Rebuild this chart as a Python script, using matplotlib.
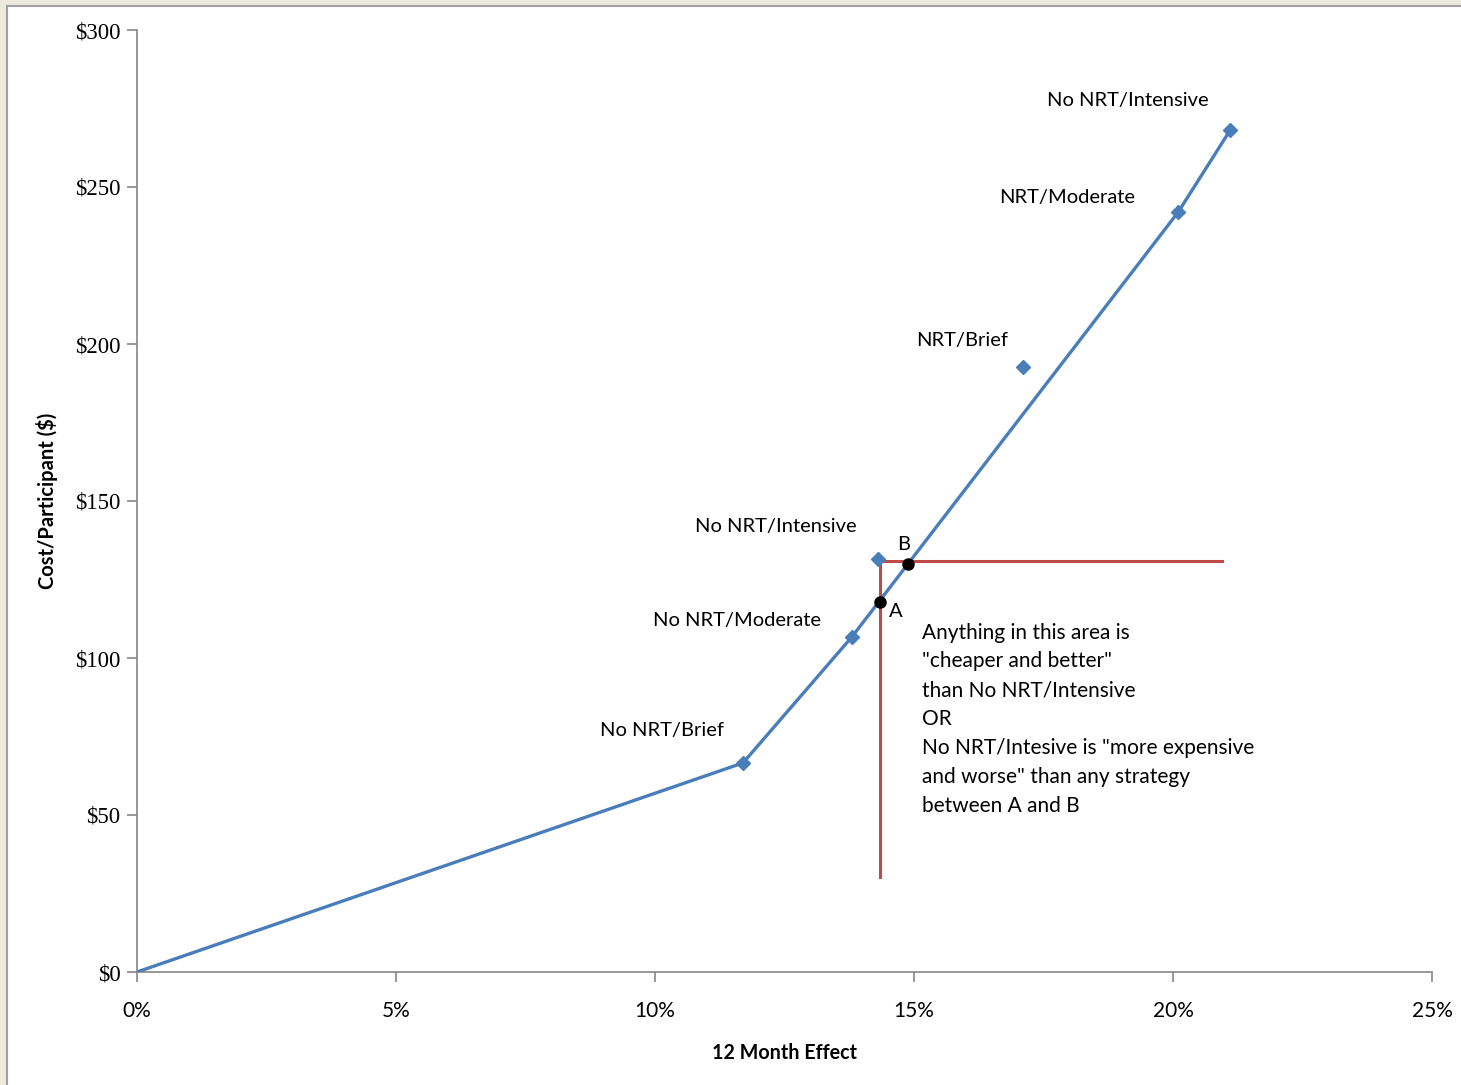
import matplotlib.pyplot as plt
from matplotlib.patches import Rectangle
from matplotlib.ticker import FuncFormatter

# Cost-effectiveness frontier (12 month effect in %, cost per participant in $)
frontier_x = [0.0, 11.7, 13.8, 20.1, 21.1]
frontier_y = [0.0, 66.6, 106.7, 242.0, 268.0]
frontier_names = [None, 'No NRT/Brief', 'No NRT/Moderate', 'NRT/Moderate', 'No NRT/Intensive']

# Dominated strategies
dominated_x = [14.3, 17.1]
dominated_y = [131.5, 192.7]
dominated_names = ['No NRT/Intensive', 'NRT/Brief']

# Points A and B on the frontier
ab_x = [14.35, 14.88]
ab_y = [117.8, 129.8]
ab_names = ['A', 'B']

# Label positions (data coords)
label_pos = {
    ('frontier', 1): (10.14, 77.0),
    ('frontier', 2): (11.58, 111.8),
    ('frontier', 3): (17.95, 246.5),
    ('frontier', 4): (19.13, 277.7),
    ('dominated', 0): (12.34, 142.0),
    ('dominated', 1): (15.93, 201.0),
}

note_lines = ['Anything in this area is',
              '"cheaper and better"',
              'than No NRT/Intensive',
              'OR',
              'No NRT/Intesive is "more expensive',
              'and worse" than any strategy',
              'between A and B']

blue = '#4A7EBB'
red = '#BE4B48'
font = ['Lato', 'DejaVu Sans']

fig = plt.figure(figsize=(14.61, 10.85), dpi=100)
fig.patch.set_facecolor('white')

# outer frame: beige strip and thin gray border
fig.patches.append(Rectangle((0, 1 - 6 / 1085), 1, 6 / 1085, transform=fig.transFigure,
                             facecolor='#ECEADF', edgecolor='none', zorder=0))
fig.patches.append(Rectangle((0, 0), 7 / 1461, 1, transform=fig.transFigure,
                             facecolor='#ECEADF', edgecolor='none', zorder=0))
fig.lines.append(plt.Line2D([7 / 1461, 7 / 1461], [0, 1 - 6 / 1085], transform=fig.transFigure,
                            color='#A0A0A0', lw=1.5))
fig.lines.append(plt.Line2D([7 / 1461, 1], [1 - 6 / 1085, 1 - 6 / 1085], transform=fig.transFigure,
                            color='#A0A0A0', lw=1.5))

ax = fig.add_axes([137 / 1461, 113 / 1085, (1432 - 137) / 1461, (972 - 30) / 1085])
ax.set_xlim(0, 25)
ax.set_ylim(0, 300)

ax.plot(frontier_x, frontier_y, color=blue, lw=2.4, marker='D', markersize=7,
        markevery=list(range(1, len(frontier_x))), zorder=3)
ax.plot(dominated_x, dominated_y, linestyle='none', color=blue, marker='D', markersize=7, zorder=3)

# box marking the "cheaper and better" area
ax.plot([dominated_x[0] + 0.04, dominated_x[0] + 0.04], [dominated_y[0], 30.3], color=red, lw=2.2, zorder=2)
ax.plot([dominated_x[0] + 0.04, 20.95], [131.0, 131.0], color=red, lw=2.2, zorder=2)

ax.plot(ab_x, ab_y, linestyle='none', marker='o', color='black', markersize=8, zorder=4)
ax.text(ab_x[0] + 0.16, ab_y[0] - 3, ab_names[0], fontsize=14.5, family=font, ha='left', va='center')
ax.text(ab_x[1] - 0.08, ab_y[1] + 6.5, ab_names[1], fontsize=14.5, family=font, ha='center', va='center')

for i, name in enumerate(frontier_names):
    if name:
        x, y = label_pos[('frontier', i)]
        ax.text(x, y, name, fontsize=14.5, family=font, ha='center', va='center')
for i, name in enumerate(dominated_names):
    x, y = label_pos[('dominated', i)]
    ax.text(x, y, name, fontsize=14.5, family=font, ha='center', va='center')

ax.text(15.15, 111.3, '\n'.join(note_lines), fontsize=15, family=font, ha='left', va='top',
        linespacing=1.56)

ax.set_xticks([0, 5, 10, 15, 20, 25])
ax.set_yticks([0, 50, 100, 150, 200, 250, 300])
ax.xaxis.set_major_formatter(FuncFormatter(lambda v, p: f'{v:.0f}%'))
ax.yaxis.set_major_formatter(FuncFormatter(lambda v, p: f'${v:.0f}'))
for lbl in ax.get_xticklabels():
    lbl.set_family(font)
    lbl.set_fontsize(15)
for lbl in ax.get_yticklabels():
    lbl.set_family(['Liberation Serif', 'DejaVu Serif'])
    lbl.set_fontsize(16.5)

ax.tick_params(axis='both', direction='out', length=7, color='#868686', width=1.2)
ax.tick_params(axis='x', pad=14)
ax.tick_params(axis='y', pad=5)
for s in ['top', 'right']:
    ax.spines[s].set_visible(False)
for s in ['left', 'bottom']:
    ax.spines[s].set_color('#868686')
    ax.spines[s].set_linewidth(1.2)

ax.set_xlabel('12 Month Effect', fontsize=14.2, fontweight='bold', family=font, labelpad=16)
ax.set_ylabel('Cost/Participant ($)', fontsize=14.5, fontweight='bold', family=font, labelpad=12)

fig.savefig('out.png', dpi=100)
